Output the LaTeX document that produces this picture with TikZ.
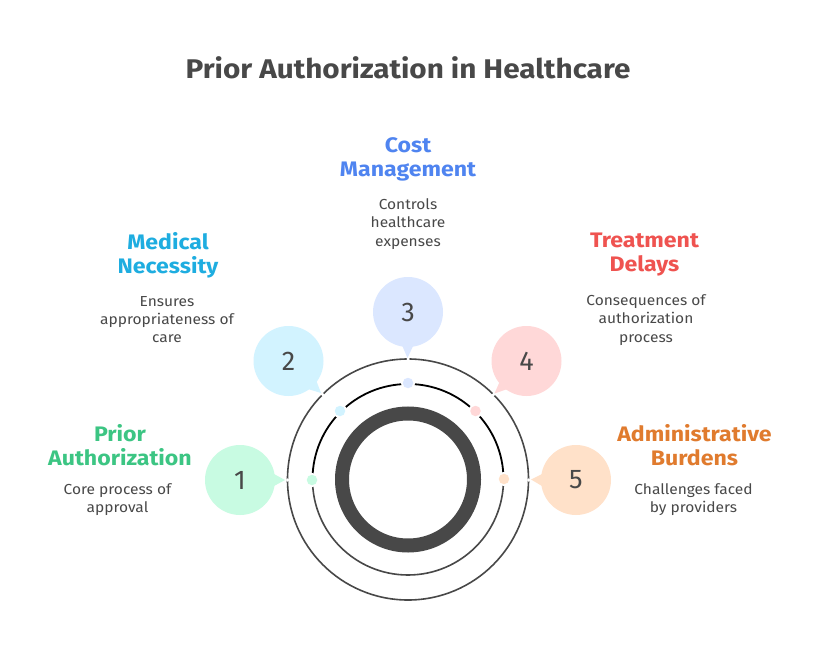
\documentclass[tikz,border=0pt]{standalone}
\usepackage{fontspec}
\setmainfont{Fira Sans}
\newfontfamily\widefont[FakeStretch=1.1]{Fira Sans}
\newfontfamily\descfont[FakeStretch=1.07]{Fira Sans}
\definecolor{ink}{HTML}{484848}
\definecolor{gA}{HTML}{3CC583}\definecolor{gB}{HTML}{C8FBE2}
\definecolor{bA}{HTML}{1EADE0}\definecolor{bB}{HTML}{D2F3FF}
\definecolor{cA}{HTML}{4F84F0}\definecolor{cB}{HTML}{DBE7FF}
\definecolor{rA}{HTML}{EF5350}\definecolor{rB}{HTML}{FFD8D8}
\definecolor{oA}{HTML}{E07B2E}\definecolor{oB}{HTML}{FFE1C9}
\tikzset{
 x=1pt,y=-1pt,
 bubble/.style={circle,minimum size=70pt,inner sep=0pt,text=ink,font=\fontsize{27}{27}\selectfont},
 head/.style={align=center,font=\widefont\fontsize{21}{24}\selectfont\bfseries},
 desc/.style={align=center,text=ink,font=\descfont\fontsize{14.5}{18.2}\selectfont},
 spot/.style={circle,minimum size=10.5pt,inner sep=0pt},
 gap/.style={circle,fill=white,minimum size=14pt,inner sep=0pt},
 nick/.style={circle,fill=white,minimum size=3.5pt,inner sep=0pt}
}
\begin{document}
\begin{tikzpicture}
\useasboundingbox (0,0) rectangle (816,660);
\fill[white] (0,0) rectangle (816,660);
\coordinate (c) at (408,479.5);
% rings
\draw[ink,line width=1.6pt] (c) circle (120.5);
\draw[black,line width=1.8pt] (312.5,479.5) arc[start angle=180,end angle=360,radius=95.5];
\draw[ink,line width=1.6pt] (312.5,479.5) arc[start angle=180,end angle=0,radius=95.5];
\draw[ink,line width=14pt] (c) circle (66);
% spots on the middle ring
\node[gap] at (312,480) {}; \node[gap] at (340,411) {}; \node[gap] at (408,383) {};
\node[gap] at (475.5,411) {}; \node[gap] at (504,479) {};
\node[spot,fill=gB] (s1) at (312,480) {};
\node[spot,fill=bB] (s2) at (340,411) {};
\node[spot,fill=cB] (s3) at (408,383) {};
\node[spot,fill=rB] (s4) at (475.5,411) {};
\node[spot,fill=oB] (s5) at (504,479) {};
% nicks in the outer ring
\node[nick] at (287.5,480) {}; \node[nick] at (322.5,394.5) {}; \node[nick] at (408,359) {};
\node[nick] at (493.5,394.5) {}; \node[nick] at (528.5,480) {};
% bubbles
\fill[gB] (274,474) -- (285,480) -- (274,486) -- cycle;
\fill[bB] (316,380) -- (321,393) -- (308,389) -- cycle;
\fill[cB] (401.5,344) -- (407.5,358) -- (414,344) -- cycle;
\fill[rB] (500,381) -- (494.5,393.5) -- (507.5,389) -- cycle;
\fill[oB] (542,474) -- (531,479.5) -- (542,486) -- cycle;
\node[bubble,fill=gB] (b1) at (240,480) {1};
\node[bubble,fill=bB] (b2) at (288.5,361) {2};
\node[bubble,fill=cB] (b3) at (408,312) {3};
\node[bubble,fill=rB] (b4) at (526.5,361) {4};
\node[bubble,fill=oB] (b5) at (576,480) {5};
% text
\node[text=ink,font=\widefont\fontsize{27}{30}\selectfont\bfseries] (title) at (408,68) {Prior Authorization in Healthcare};
\node[head,text=gA] (h1) at (120,445) {Prior\\Authorization};
\node[desc] (d1) at (117.5,500) {Core process of\\approval};
\node[head,text=bA] (h2) at (168,255) {Medical\\Necessity};
\node[desc] (d2) at (167,319.5) {Ensures\\appropriateness of\\care};
\node[head,text=cA] (h3) at (408,159) {Cost\\Management};
\node[desc] (d3) at (408,224) {Controls\\healthcare\\expenses};
\node[head,text=rA] (h4) at (644.5,255) {Treatment\\Delays};
\node[desc] (d4) at (646,320) {Consequences of\\authorization\\process};
\node[head,text=oA] (h5) at (694.5,445) {Administrative\\Burdens};
\node[desc] (d5) at (693.5,500) {Challenges faced\\by providers};
\end{tikzpicture}
\end{document}
